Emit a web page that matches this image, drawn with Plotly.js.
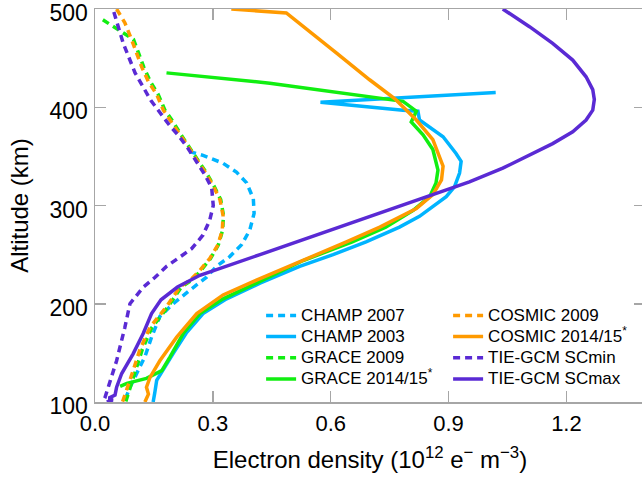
<!DOCTYPE html>
<html>
<head>
<meta charset="utf-8">
<script src="https://cdn.plot.ly/plotly-3.0.1.min.js"></script>
<style>
html,body{margin:0;padding:0;overflow:hidden;background:#fff;}
#chart{width:645px;height:478px;}
</style>
</head>
<body>
<div id="chart"></div>
<script>
// ---- Data (electron density in 1e12 e-/m3, altitude in km) ----
const champ2007_ne  = [0.24, 0.275, 0.326, 0.36, 0.386, 0.403, 0.405, 0.394, 0.373, 0.343, 0.309, 0.284, 0.242, 0.199, 0.165, 0.144, 0.127, 0.106, 0.089, 0.076];
const champ2007_alt = [355, 351, 343, 334, 323, 307, 292, 275, 260, 248, 238, 227, 214, 200, 187, 166, 146, 129, 115, 102];

const champ2003_ne  = [1.02, 0.574, 0.784, 0.822, 0.826, 0.843, 0.886, 0.919, 0.932, 0.928, 0.915, 0.894, 0.86, 0.826, 0.775, 0.69, 0.606, 0.521, 0.42, 0.335, 0.275, 0.232, 0.2, 0.185, 0.174, 0.157, 0.152, 0.148];
const champ2003_alt = [415, 405, 397, 396, 387, 382, 370, 353, 345, 333, 319, 309, 299, 289, 278, 263, 250, 238, 221, 205, 190, 170, 150, 140, 132, 122, 109, 100];

const grace2009_ne  = [0.02, 0.068, 0.098, 0.111, 0.124, 0.141, 0.161, 0.178, 0.199, 0.219, 0.240, 0.262, 0.284, 0.304, 0.32, 0.327, 0.325, 0.314, 0.294, 0.27, 0.246, 0.22, 0.186, 0.145, 0.12, 0.103, 0.088, 0.078];
const grace2009_alt = [489, 477, 469, 455, 441, 426, 413, 397, 385, 372, 360, 346, 333, 319, 306, 290, 275, 260, 246, 234, 224, 217, 197, 176, 153, 132, 112, 100];

const grace2014_ne  = [0.182, 0.445, 0.784, 0.818, 0.805, 0.835, 0.86, 0.873, 0.868, 0.852, 0.81, 0.74, 0.655, 0.53, 0.411, 0.326, 0.267, 0.225, 0.191, 0.17, 0.131, 0.081, 0.064];
const grace2014_alt = [435, 424.5, 406, 396, 385, 372, 357, 336, 323, 309, 295, 278, 263, 244, 221, 205, 190, 170, 146, 132, 124, 119, 116];

const cosmic2009_ne  = [0.055, 0.076, 0.093, 0.106, 0.119, 0.136, 0.157, 0.174, 0.195, 0.216, 0.237, 0.26, 0.282, 0.302, 0.318, 0.326, 0.324, 0.313, 0.292, 0.267, 0.242, 0.216, 0.182, 0.14, 0.114, 0.097, 0.081, 0.07];
const cosmic2009_alt = [500, 486, 469, 455, 441, 426, 413, 397, 385, 372, 360, 346, 333, 319, 306, 290, 275, 260, 246, 234, 224, 217, 197, 176, 153, 132, 112, 100];

const cosmic2014_ne  = [0.347, 0.487, 0.615, 0.699, 0.765, 0.818, 0.86, 0.886, 0.882, 0.86, 0.818, 0.725, 0.64, 0.52, 0.411, 0.326, 0.259, 0.208, 0.165, 0.14, 0.131, 0.136, 0.127];
const cosmic2014_alt = [500, 496, 455, 428, 408, 387, 367, 340, 326, 311, 297, 278, 263, 243, 224, 209, 190, 166, 142, 125, 115, 108, 100];

const tiegcmMin_ne  = [0.048, 0.072, 0.102, 0.142, 0.189, 0.213, 0.237, 0.258, 0.28, 0.297, 0.301, 0.292, 0.275, 0.246, 0.212, 0.182, 0.153, 0.123, 0.089, 0.076, 0.055, 0.038, 0.03, 0.025, 0.02];
const tiegcmMin_alt = [497, 465, 435, 407, 382, 371, 358, 345, 331, 318, 300, 285, 270, 256, 246, 238, 227, 217, 200, 176, 142, 119, 108, 104, 100];

const tiegcmMax_ne  = [1.038, 1.106, 1.165, 1.216, 1.25, 1.267, 1.271, 1.267, 1.25, 1.216, 1.165, 1.106, 1.038, 0.953, 0.775, 0.597, 0.42, 0.267, 0.21, 0.168, 0.144, 0.123, 0.097, 0.068, 0.055, 0.051, 0.035, 0.045, 0.03];
const tiegcmMax_alt = [500, 482, 465, 448, 431, 418, 408, 397, 387, 375, 363, 351, 338, 324, 299, 274, 250, 229, 217, 204, 190, 170, 149, 129, 115, 107, 104, 102, 100];

const seriesNames = ['CHAMP 2007', 'CHAMP 2003', 'GRACE 2009', 'GRACE 2014/15<sup>*</sup>',
                     'COSMIC 2009', 'COSMIC 2014/15<sup>*</sup>', 'TIE-GCM SCmin', 'TIE-GCM SCmax'];
const xTickVals = [0, 0.3, 0.6, 0.9, 1.2];
const xTickText = ['0.0', '0.3', '0.6', '0.9', '1.2'];
const yTickVals = [100, 200, 300, 400, 500];

// ---- Styles ----
const CYAN = '#00b4ff', GREEN = '#11ee11', ORANGE = '#ff9a00', PURPLE = '#5a2ad4';
const DASH = '7px,5px';
const LW = 3.5;
const FONT = 'Liberation Sans, Arial, Helvetica, sans-serif';

function tr(x, y, name, color, dashed, legend) {
  return {x: x, y: y, name: '<span style="font-size:17px">' + name + '</span>',
          type: 'scatter', mode: 'lines',
          line: {color: color, width: LW, dash: dashed ? DASH : 'solid'},
          legend: legend};
}

const data = [
  tr(champ2007_ne, champ2007_alt, seriesNames[0], CYAN, true, 'legend'),
  tr(champ2003_ne, champ2003_alt, seriesNames[1], CYAN, false, 'legend'),
  tr(grace2009_ne, grace2009_alt, seriesNames[2], GREEN, true, 'legend'),
  tr(grace2014_ne, grace2014_alt, seriesNames[3], GREEN, false, 'legend'),
  tr(cosmic2009_ne, cosmic2009_alt, seriesNames[4], ORANGE, true, 'legend2'),
  tr(cosmic2014_ne, cosmic2014_alt, seriesNames[5], ORANGE, false, 'legend2'),
  tr(tiegcmMin_ne, tiegcmMin_alt, seriesNames[6], PURPLE, true, 'legend2'),
  tr(tiegcmMax_ne, tiegcmMax_alt, seriesNames[7], PURPLE, false, 'legend2')
];

const axisCommon = {
  showgrid: false, zeroline: false,
  ticks: 'inside', ticklen: 11, tickwidth: 1.5, tickcolor: '#a6a6a6',
  showline: true, linecolor: '#a6a6a6', linewidth: 1.5, mirror: 'ticks',
  ticklabeloverflow: 'allow'
};

const legendCommon = {
  font: {family: FONT, size: 14, color: '#000'},
  bgcolor: 'rgba(0,0,0,0)', borderwidth: 0,
  xanchor: 'left', yanchor: 'top', orientation: 'v', tracegroupgap: 0
};

const layout = {
  width: 645, height: 478,
  margin: {l: 95, r: 0, t: 9, b: 76},
  paper_bgcolor: '#fff', plot_bgcolor: '#fff',
  font: {family: FONT, color: '#000'},
  showlegend: true,
  xaxis: Object.assign({}, axisCommon, {
    range: [0, 1.4], tickmode: 'array', tickvals: xTickVals, ticktext: xTickText,
    tickfont: {family: FONT, size: 22, color: '#000'},
    ticklabelstandoff: 1,
    title: {text: 'Electron density (10<sup>12</sup> e<sup>\u2212</sup> m<sup>\u22123</sup>)',
            font: {family: FONT, size: 24, color: '#000'}, standoff: 16}
  }),
  yaxis: Object.assign({}, axisCommon, {
    range: [100, 500.01], tickmode: 'array', tickvals: yTickVals,
    tickfont: {family: FONT, size: 23, color: '#000'},
    ticklabelstandoff: 1, ticklabelshift: 4,
    title: {text: 'Altitude (km)', font: {family: FONT, size: 24, color: '#000'}, standoff: 14}
  }),
  legend: Object.assign({}, legendCommon, {x: 0.302, y: 0.26}),
  legend2: Object.assign({}, legendCommon, {x: 0.642, y: 0.26})
};

Plotly.newPlot('chart', data, layout, {displayModeBar: false, staticPlot: true});
</script>
</body>
</html>
